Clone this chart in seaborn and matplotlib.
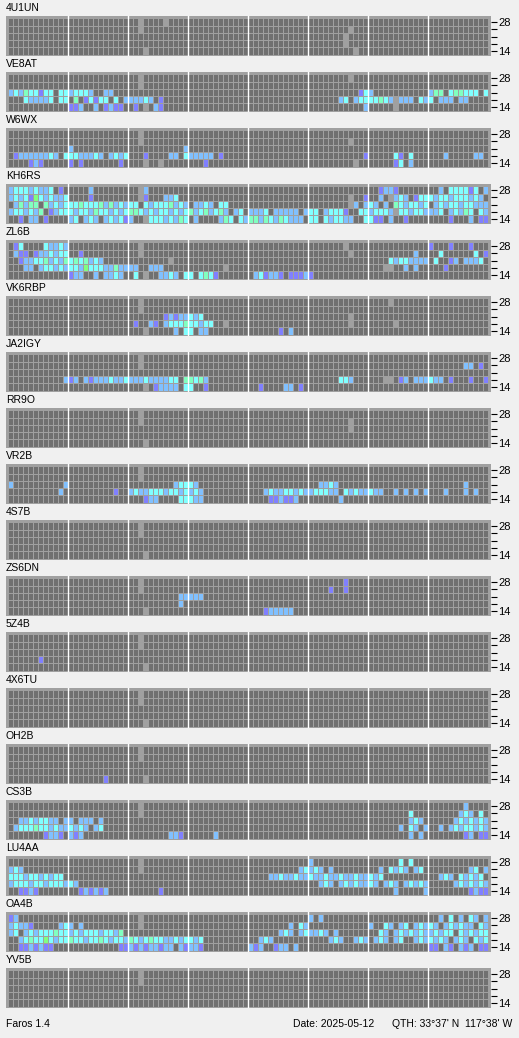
"""
Faros beacon monitor - propagation grid per beacon station
"""

import numpy as np
import matplotlib
matplotlib.use("Agg")
import matplotlib.pyplot as plt
from matplotlib.colors import ListedColormap
import seaborn as sns

# Band rows (top to bottom) and right-hand tick labels
bands = ["28", "24", "21", "18", "14"]
band_labels = ["28", "", "", "", "14"]

# Cell codes: . no signal, - no data, p/b/c/g/G signal levels
codes = {".": 0, "-": 1, "p": 2, "b": 3, "c": 4, "g": 5, "G": 6}
cell_colors = ["#707070", "#a0a0a0", "#8080ff", "#80c0ff", "#80ffff", "#80ffc0", "#80ff80"]

# 96 quarter-hour slots per row, written in 8 groups of 12 (3 hours each)
E = "............ ............ ............ ............ ............ ............ ............ ............"
R26 = "............ ............ ..-......... ............ ............ ............ ............ ............"
R27 = "............ ............ ...-........ ............ ............ ............ ............ ............"

s_4U1UN = [
    "............ ............ ..-....-.... ............ ............ ............ ............ ............",
    "............ ............ ..-......... ............ ............ ........-... ............ ............",
    "............ ............ ............ ............ ............ .......-.... ............ ............",
    "............ ............ ............ ............ ............ .......-.... ............ ............",
    "............ ............ ...-........ ............ ............ .........-.. ............ ............",
]
s_VE8AT = [
    "............ ............ ..-......... ............ ............ ........-... ............ ............",
    R26,
    "bcbgccpcc.cc bcccb..bb... ............ ............ ............ ..........pc b........... bgg.cggccc.c",
    "...cbbbbc.cc .g.pcpcc.c.b bbbcb.p..... ............ ............ ......bc.bcc ccgcb-bbb.cb c.bbb.bb....",
    "............ ppb..b.pbpp. .p.-.bp..... ............ ............ ...........b .....-...... ............",
]
s_W6WX = [
    R26,
    "............ ............ ..-......... ............ ............ ........-... ............ ............",
    "............ b........... ...........b ............ ............ ............ ............ ............",
    ".pbbbbbbcb.c ccbbbcb.bcbc ...p....bb.c bbbbb.p..... ............ ...........p .....cp.c... ...b.....bb.",
    "....pbp..... p.p.......p. ...-..-..... ...p........ ............ .........-.. .....pc.b... ............",
]
s_KH6RS = [
    "bcccbcbbc.p. ....b....... ..-b........ ............ ............ ............ ..pbbp...... ..b.ccccpc.b",
    "bcbcpGcbcbbc ....p....... ..-p...bbc.. ............ ............ ........-..p ..b.-bcb.pcc cbccbcccbcb.",
    ".bgbgg.gbcbc ccgcccgbgbcb cc.cbcccgbcb .bbcb.cc.... ............ ........-b.b cb.b.gcbccbc .bcbccbccbbb",
    "bccbcbg.pbcc cbccbgccbcbc ggcbcbccbcbc gbcgbcgb.bc. bbbc.bbbbb.b cc.bcccp..cc bcccb-ccbccb bbc.bcbgc.cb",
    "..p.bb.p.... bc.bcb.bcbcp b..-cccbcbgc .b....bgc.cb ggbgcbgcbbb. cc.cbccbb..c cpp.b..p.... ....p...b.pp",
]
s_ZL6B = [
    ".pc....cbbcb ............ ..-......... ............ ............ .......-.... ............ p...p...p...",
    ".bpp.pbbcbcc ..p......... ..-......... ............ ............ ........-... .........b.. ..c......c.p",
    "..pbbccgbcbg cgcgbcb..... ........-... ............ ............ ............ ....cbccbbbb .c..pb.bbbc.",
    "...bb.bccbcb ccbGcccbbgbb bb..bbb..... .......-.... ............ ............ ...--..b.b.. ...p........",
    "............ pbb..b.bbcb. .c.-..bbcb.c c.cgcp...... .bcpbbp.pppb p........... ............ ............",
]
s_VK6RBP = [
    "............ ............ ..-......... ............ ............ ............ ....-....... ............",
    R26,
    "............ ............ .......pbpbb cbc......... ............ ........-... ............ ............",
    "............ ............ .p..bp.bcccg ccbcc..-.... ............ ........-... .....-...... ............",
    "............ ............ ...-.....b.c c.bb........ ......p.b... ............ ............ ............",
]
s_JA2IGY = [
    R26,
    "............ ............ ..-......... ............ ............ ............ ............ .......bb.p.",
    E,
    "...........b pb.bpbbbcbbc bbbcbbbbcc.g gcgb........ ............ ......ccb... ...--.pb.bbb cbb.p...p..p",
    "............ ............ ...-.pbbbb.c c..p........ ..p....bb.p. ............ ............ ............",
]
s_RR9O = [
    R26,
    "............ ............ ..-......... ............ ............ ........-... ............ ............",
    "............ ............ ............ ............ ............ ........-... ............ ............",
    E,
    R27,
]
s_VR2B = [
    R26,
    R26,
    "b..........b ............ .........bcc cb.......... ............ ..bbcb...... ............ .......b....",
    "..........b. .........p.. bcbbcccbccbc bcb......... ...bcbbccbcb bcccbb.cbcbb cbb..b.b.b.b ...b...b.b..",
    "............ ............ ...pbb....cc cbb......... ....ppbppb.. ......b..... ............ ............",
]
s_4S7B = [R26, R26, E, E, R27]
s_ZS6DN = [
    "............ ............ ..-......... ............ ............ .......p.... ............ ............",
    "............ ............ ..-......... ............ ............ ....p..p.... ............ ............",
    "............ ............ ..........bb bbb......... ............ ............ ............ ............",
    "............ ............ ..........b. ............ ............ ............ ............ ............",
    "............ ............ ...-........ ............ ...pbbbbb... ............ ............ ............",
]
s_5Z4B = [
    R26,
    R26,
    E,
    "......p..... ............ ............ ............ ............ ............ ............ ............",
    R27,
]
s_4X6TU = [R26, R26, E, E, R27]
s_OH2B = [
    R26,
    R26,
    E,
    E,
    "............ .......p.... ...-........ ............ ............ ............ ............ ............",
]
s_CS3B = [
    "............ ............ ..-......... ............ ............ ............ ............ .......b....",
    "............ ............ ..-......... ............ ............ ............ ........c... ......bcb.c.",
    "..bbcbccbb.b b.bbb.b..... ............ ............ ............ ............ ........bcb. .....bcbcbcb",
    ".bcccgccbcbb cbcb.bc..... ............ ............ ............ ............ ......b.cb.b ..b.bcbccbcb",
    ".......pbbp. bpb......... ........bbp. .....b...... ............ ............ ........b.b. .......pb.pp",
]
s_LU4AA = [
    "............ ............ ..-......... ............ ............ b........... ......c.c... ............",
    "bcb......... ............ ..-......... ............ ..........bc bcb.b....... ..b.cbcb.bc. ........bc.b",
    "cccbccbcbcc. ............ ............ ............ ....bbcbbcbb cbbcbbcbbcbb cbc......... ..bcb.cbcbc.",
    "bcccbccbcccb cb.......... ............ ............ ............ ..bcb.bcbcbb cb.bcb.bcbcb .....bcbcbcb",
    "..ppbp...... ..pbpbpb.... ......p..... ............ ............ ............ .....b.....b ........pbpp",
]
s_OA4B = [
    "pb.......... ............ ..-......... ............ ............ b.b......... ............ ..b.c.b.cb.b",
    "bcbbp.....bc b.b......... ..-......... ............ ........b.cb ............ b..cb.bc.bcb cb.bcbcbb.cb",
    "bc.bcbcccgcc bcbcccbccbg. ............ ............ ......bcb.bc bbcb.b...... ..cb.bcbcbcb bcbcc.cbcbcc",
    "..bcgccGcbcc gccbccgcbccb gcbcgccbbcbc cbc......... ..bcb....... ....bcb..bcb .bcb.bc..bcb cbcb.bcb.cbc",
    "..ppbpbpp... ..........pp bpbpbbpbb.bp bbp......... bpb..pbb.b.. ............ ............ pp.bp.bpb.pp",
]
s_YV5B = [R26, R26, E, E, E]

stations = ["4U1UN", "VE8AT", "W6WX", "KH6RS", "ZL6B", "VK6RBP", "JA2IGY", "RR9O", "VR2B",
            "4S7B", "ZS6DN", "5Z4B", "4X6TU", "OH2B", "CS3B", "LU4AA", "OA4B", "YV5B"]
grids = [s_4U1UN, s_VE8AT, s_W6WX, s_KH6RS, s_ZL6B, s_VK6RBP, s_JA2IGY, s_RR9O, s_VR2B,
         s_4S7B, s_ZS6DN, s_5Z4B, s_4X6TU, s_OH2B, s_CS3B, s_LU4AA, s_OA4B, s_YV5B]


def to_row(s):
    groups = [g.ljust(12, ".")[:12] for g in s.split()]
    groups = (groups + ["." * 12] * 8)[:8]
    return [codes.get(ch, 0) for ch in "".join(groups)]


W, H = 519, 1038
panel_bg = "#a0a0a0"
cmap = ListedColormap(cell_colors)

fig = plt.figure(figsize=(W / 100, H / 100), dpi=100)
fig.patch.set_facecolor("#f0f0f0")
plt.rcParams["font.family"] = ["Liberation Sans", "DejaVu Sans"]

for i, (name, grid) in enumerate(zip(stations, grids)):
    top = 16 + 56 * i
    ax = fig.add_axes([6 / W, 1 - (top + 40) / H, 485 / W, 40 / H])
    data = np.array([to_row(r) for r in grid])
    sns.heatmap(data, ax=ax, cmap=cmap, vmin=-0.5, vmax=6.5, cbar=False,
                linewidths=0.72, linecolor=panel_bg, xticklabels=False, yticklabels=False)
    ax.set_facecolor(panel_bg)
    ax.set_xlim(-0.4, 96.6)
    ax.set_ylim(5.19, -0.33)
    for x in range(12, 96, 12):
        ax.axvline(x, color="white", lw=1.0)
    for sp in ax.spines.values():
        sp.set_visible(False)
    ax.yaxis.tick_right()
    ax.set_yticks(np.arange(len(bands)) + 0.5)
    ax.set_yticklabels(band_labels, fontsize=8)
    ax.tick_params(axis="y", length=4, width=0.8, pad=1, colors="black")
    ax.set_xticks([])
    fig.text(6 / W, 1 - (8 + 56 * i) / H, name, fontsize=7.5, va="center", ha="left")

fig.text(6 / W, 1 - 1024 / H, "Faros 1.4", fontsize=7.5, va="center", ha="left")
fig.text(293 / W, 1 - 1024 / H, "Date: 2025-05-12", fontsize=7.5, va="center", ha="left")
fig.text(512 / W, 1 - 1024 / H, "QTH: 33\u00b037' N  117\u00b038' W", fontsize=7.5, va="center", ha="right")

plt.savefig("out.png", dpi=100, facecolor=fig.get_facecolor())
plt.close()
print("Saved: out.png")
